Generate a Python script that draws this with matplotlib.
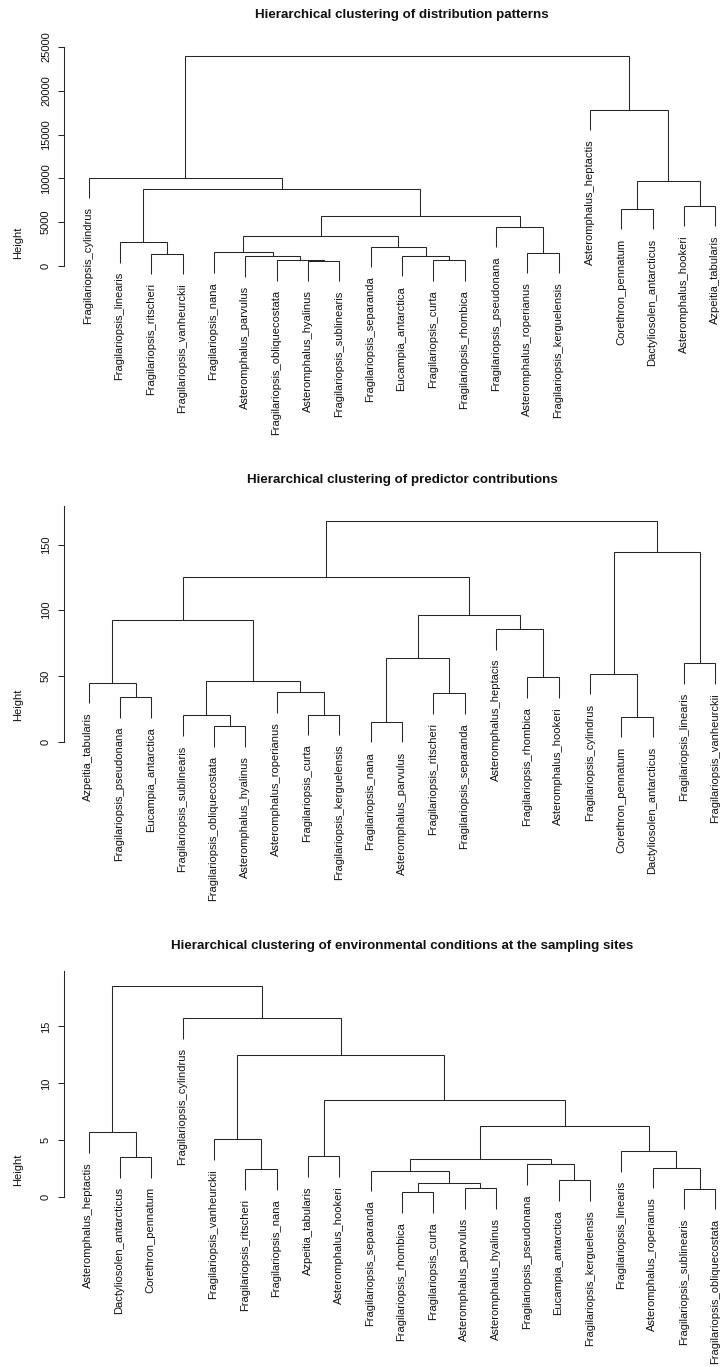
import matplotlib
matplotlib.use("Agg")
import matplotlib.pyplot as plt

plt.rcParams['font.family'] = ['Liberation Sans', 'DejaVu Sans']

# ---------------- data ----------------
title1 = "Hierarchical clustering of distribution patterns"
labels1 = ["Fragilariopsis_cylindrus", "Fragilariopsis_linearis", "Fragilariopsis_ritscheri",
           "Fragilariopsis_vanheurckii", "Fragilariopsis_nana", "Asteromphalus_parvulus",
           "Fragilariopsis_obliquecostata", "Asteromphalus_hyalinus", "Fragilariopsis_sublinearis",
           "Fragilariopsis_separanda", "Eucampia_antarctica", "Fragilariopsis_curta",
           "Fragilariopsis_rhombica", "Fragilariopsis_pseudonana", "Asteromphalus_roperianus",
           "Fragilariopsis_kerguelensis", "Asteromphalus_heptactis", "Corethron_pennatum",
           "Dactyliosolen_antarcticus", "Asteromphalus_hookeri", "Azpeitia_tabularis"]
merge1 = [(-8, -9), (-7, 1), (-12, -13), (-6, 2), (-11, 3), (-3, -4), (-15, -16),
          (-5, 4), (-10, 5), (-2, 6), (8, 9), (-14, 7), (11, 12), (-18, -19),
          (-20, -21), (10, 13), (14, 15), (-1, 16), (-17, 17), (18, 19)]
height1 = [630, 660, 680, 1100, 1140, 1410, 1520, 1560, 2190, 2700, 3380, 4480,
           5660, 6500, 6880, 8830, 9660, 10080, 17820, 23950]
ticks1 = [0, 5000, 10000, 15000, 20000, 25000]

title2 = "Hierarchical clustering of predictor contributions"
labels2 = ["Azpeitia_tabularis", "Fragilariopsis_pseudonana", "Eucampia_antarctica",
           "Fragilariopsis_sublinearis", "Fragilariopsis_obliquecostata", "Asteromphalus_hyalinus",
           "Asteromphalus_roperianus", "Fragilariopsis_curta", "Fragilariopsis_kerguelensis",
           "Fragilariopsis_nana", "Asteromphalus_parvulus", "Fragilariopsis_ritscheri",
           "Fragilariopsis_separanda", "Asteromphalus_heptacis", "Fragilariopsis_rhombica",
           "Asteromphalus_hookeri", "Fragilariopsis_cylindrus", "Corethron_pennatum",
           "Dactyliosolen_antarcticus", "Fragilariopsis_linearis", "Fragilariopsis_vanheurckii"]
merge2 = [(-5, -6), (-10, -11), (-18, -19), (-4, 1), (-8, -9), (-2, -3), (-12, -13),
          (-7, 5), (-1, 6), (4, 8), (-15, -16), (-17, 3), (-20, -21), (2, 7),
          (-14, 11), (9, 10), (14, 15), (16, 17), (12, 13), (18, 19)]
height2 = [11.7, 15.0, 18.8, 19.9, 20.4, 33.9, 37.0, 37.5, 44.9, 45.9, 49.0, 51.7,
           59.6, 63.7, 85.7, 92.9, 96.6, 125.3, 144.6, 168.2]
ticks2 = [0, 50, 100, 150, 200]

title3 = "Hierarchical clustering of environmental conditions at the sampling sites"
labels3 = ["Asteromphalus_heptactis", "Dactyliosolen_antarcticus", "Corethron_pennatum",
           "Fragilariopsis_cylindrus", "Fragilariopsis_vanheurckii", "Fragilariopsis_ritscheri",
           "Fragilariopsis_nana", "Azpeitia_tabularis", "Asteromphalus_hookeri",
           "Fragilariopsis_separanda", "Fragilariopsis_rhombica", "Fragilariopsis_curta",
           "Asteromphalus_parvulus", "Asteromphalus_hyalinus", "Fragilariopsis_pseudonana",
           "Eucampia_antarctica", "Fragilariopsis_kerguelensis", "Fragilariopsis_linearis",
           "Asteromphalus_roperianus", "Fragilariopsis_sublinearis", "Fragilariopsis_obliquecostata"]
merge3 = [(-11, -12), (-20, -21), (-13, -14), (1, 3), (-16, -17), (-10, 4), (-6, -7),
          (-19, 2), (-15, 5), (6, 9), (-2, -3), (-8, -9), (-18, 8), (-5, 7),
          (-1, 11), (10, 13), (12, 16), (14, 17), (-4, 18), (15, 19)]
height3 = [0.41, 0.73, 0.76, 1.26, 1.47, 2.32, 2.46, 2.58, 2.87, 3.37, 3.49, 3.58,
           4.05, 5.07, 5.72, 6.22, 8.50, 12.49, 15.71, 18.56]
ticks3 = [0, 5, 10, 15, 20]

# ---------------- layout ----------------
W, H, DPI = 722, 1367, 100
fig = plt.figure(figsize=(W / DPI, H / DPI), dpi=DPI)
fig.patch.set_facecolor("white")

LINE = "#262626"
TXT = "#111111"
px = 72.0 / DPI  # points per pixel

AX_LEFT, AX_RIGHT = 63.5, 740.5
panels = [
    dict(title=title1, labels=labels1, merge=merge1, height=height1, ticks=ticks1,
         top=41.1, bottom=443.9, span=42530.0, ty=15.0),
    dict(title=title2, labels=labels2, merge=merge2, height=height2, ticks=ticks2,
         top=505.9, bottom=904.0, span=280.6, ty=480.0),
    dict(title=title3, labels=labels3, merge=merge3, height=height3, ticks=ticks3,
         top=971.3, bottom=1368.7, span=32.36, ty=946.0),
]


def draw_dendro(ax, labels, merge, height, hang=0.1):
    drop = hang * (max(height) - min(height))
    xs = []

    def nx(ref):
        return float(-ref) if ref < 0 else xs[ref - 1]

    for i, (a, b) in enumerate(merge):
        h = height[i]
        xa, xb = nx(a), nx(b)
        ya = h - drop if a < 0 else height[a - 1]
        yb = h - drop if b < 0 else height[b - 1]
        ax.plot([xa, xa, xb, xb], [ya, h, h, yb], color=LINE, lw=0.75,
                solid_capstyle="butt", solid_joinstyle="miter")
        for ref, x, y in ((a, xa, ya), (b, xb, yb)):
            if ref < 0:
                ax.annotate(labels[-ref - 1], xy=(x, y), xytext=(2.6 * px, -9.3 * px),
                            textcoords="offset points", rotation=90,
                            rotation_mode="anchor", ha="right", va="baseline",
                            fontsize=8, color=TXT, annotation_clip=False)
        xs.append((xa + xb) / 2.0)


for p in panels:
    n = len(p["labels"])
    ax = fig.add_axes([AX_LEFT / W, 1 - p["bottom"] / H,
                       (AX_RIGHT - AX_LEFT) / W, (p["bottom"] - p["top"]) / H])
    ax.set_facecolor("none")
    draw_dendro(ax, p["labels"], p["merge"], p["height"])
    ymax = max(p["height"])
    r = p["span"]
    ax.set_xlim(1 - 0.04 * (n - 1), n + 0.04 * (n - 1))
    ylim = (ymax - 1.04 * r, ymax + 0.04 * r)
    ax.set_ylim(*ylim)
    for s in ("top", "right", "bottom"):
        ax.spines[s].set_visible(False)
    tks = [t for t in p["ticks"] if ylim[0] <= t <= ylim[1]]
    ax.spines["left"].set_bounds(0, min(p["ticks"][-1], ylim[1]))
    ax.spines["left"].set_color(LINE)
    ax.spines["left"].set_linewidth(0.75)
    ax.set_xticks([])
    ax.set_yticks(tks)
    ax.set_yticklabels([str(t) for t in tks])
    ax.tick_params(axis="y", length=6 * px, width=0.75, color=LINE, labelsize=8,
                   labelcolor=TXT, pad=6.5 * px, labelrotation=90)
    for lbl in ax.get_yticklabels():
        lbl.set_va("center")
        lbl.set_ha("right")
    ax.set_ylabel("Height", fontsize=8, color=TXT)
    ax.yaxis.label.set_va("center")
    ax.yaxis.set_label_coords((18.5 - AX_LEFT) / (AX_RIGHT - AX_LEFT), 0.5)
    fig.text(((AX_LEFT + AX_RIGHT) / 2) / W, 1 - p["ty"] / H, p["title"],
             ha="center", va="center", fontsize=9.6, fontweight="bold", color=TXT)

fig.savefig("out.png", dpi=DPI, facecolor="white")
